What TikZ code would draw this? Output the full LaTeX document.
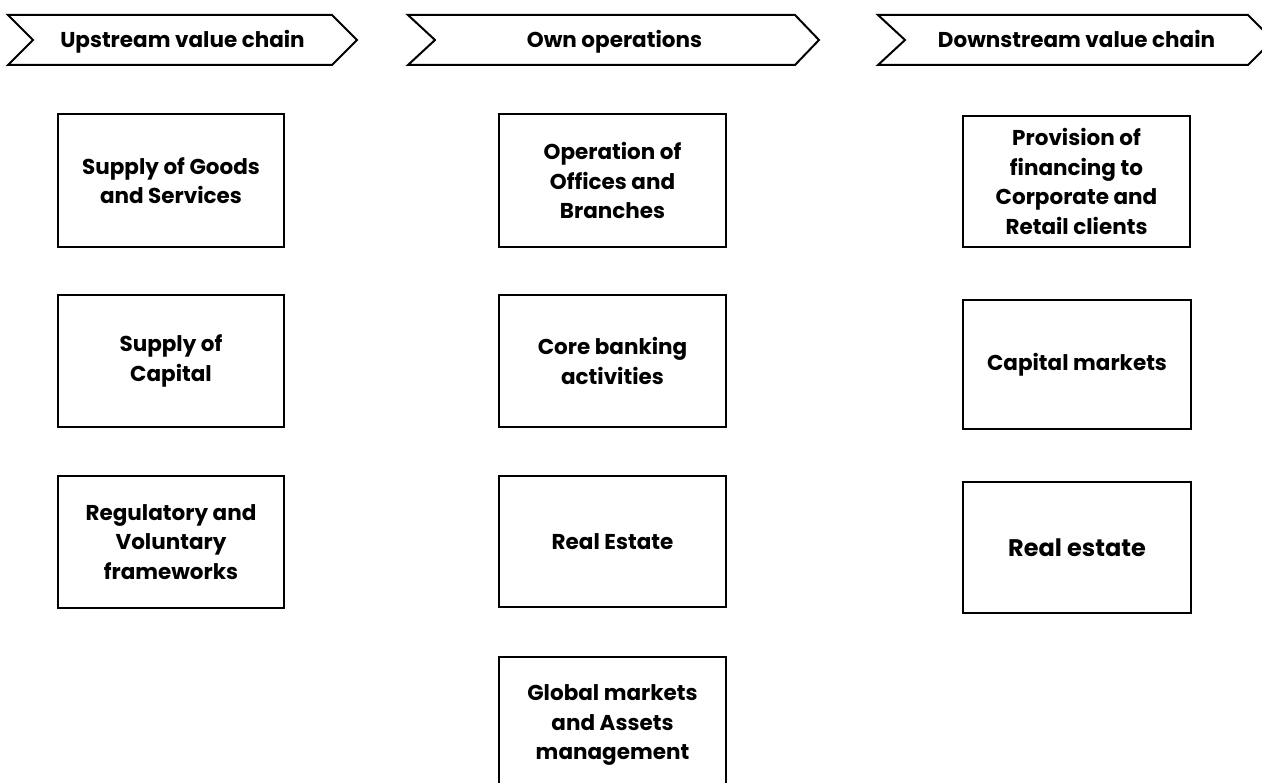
\documentclass[tikz,border=0pt]{standalone}
\usepackage{fontspec}
\setmainfont{Poppins}
\begin{document}
\begin{tikzpicture}[x=1pt,y=-1pt,
  chev/.style={draw=black,line width=2pt,line join=miter,fill=white},
  chevtext/.style={font=\bfseries\fontsize{21.5}{24}\selectfont,inner sep=0pt,anchor=base},
  boxfont/.style={font=\bfseries\fontsize{21.5}{29.5}\selectfont},
  box/.style={draw=black,line width=2pt,fill=white,align=center,inner sep=0pt,boxfont}]
\useasboundingbox (0,0) rectangle (1262,783);
% chevrons
\draw[chev] (8,15) -- (332,15) -- (357,40) -- (332,65) -- (8,65) -- (33,40) -- cycle;
\node[chevtext] (h1) at (182.5,48) {Upstream value chain};
\draw[chev] (408,15) -- (795,15) -- (819,40) -- (795,65) -- (408,65) -- (435,40) -- cycle;
\node[chevtext] (h2) at (614.5,48) {Own operations};
\draw[chev] (878,15) -- (1248,15) -- (1273,40) -- (1248,65) -- (878,65) -- (905,40) -- cycle;
\node[chevtext] (h3) at (1076.5,48) {Downstream value chain};
% column 1
\node[box,minimum width=226pt,minimum height=133pt] (a1) at (171,180.5) {Supply of Goods\\and Services};
\node[box,minimum width=226pt,minimum height=132pt] (a2) at (171,361) {Supply of\\Capital};
\node[box,minimum width=226pt,minimum height=131pt] (a3) at (171,542) {Regulatory and\\Voluntary\\frameworks};
% column 2
\node[box,minimum width=227pt,minimum height=133pt] (b1) at (612.5,180.5) {Operation of\\Offices and\\Branches};
\node[box,minimum width=227pt,minimum height=132pt] (b2) at (612.5,361) {Core banking\\activities};
\node[box,minimum width=227pt,minimum height=131pt] (b3) at (612.5,541.5) {Real Estate};
\node[box,minimum width=227pt,minimum height=140pt] (b4) at (612.5,727) {};
\node[align=center,inner sep=0pt,boxfont] (b4t) at (612.5,725) {Global markets\\and Assets\\management};
% column 3
\node[box,minimum width=227pt,minimum height=131pt] (c1) at (1076.5,181.5) {Provision of\\financing to\\Corporate and\\Retail clients};
\node[box,minimum width=228pt,minimum height=129pt] (c2) at (1077,364.5) {Capital markets};
\node[box,minimum width=228pt,minimum height=131pt] (c3) at (1077,547.5) {\fontsize{24}{29}\selectfont Real estate};
\end{tikzpicture}
\end{document}
